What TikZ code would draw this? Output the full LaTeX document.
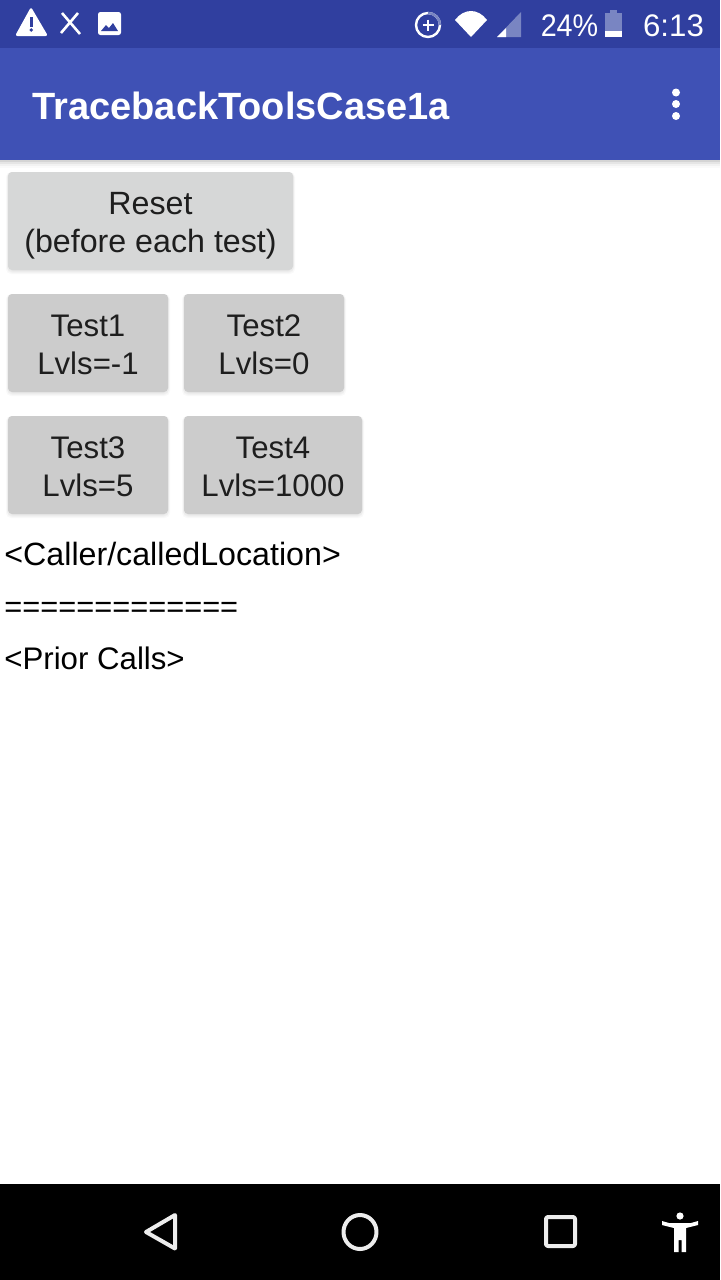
\documentclass[tikz,border=0pt]{standalone}
\usepackage{fontspec}
\setmainfont{Liberation Sans}
\usetikzlibrary{calc}
\definecolor{statusbar}{HTML}{303F9F}
\definecolor{appbar}{HTML}{3F51B5}
\definecolor{btngray}{HTML}{CCCCCC}
\definecolor{resetgray}{HTML}{D6D7D7}
\definecolor{btntext}{HTML}{1E1E1E}
\definecolor{dimwhite}{HTML}{7985C2}
\definecolor{navicon}{HTML}{EDEDED}
\newcommand{\bs}{\rule[-3.5pt]{0pt}{19pt}}
\tikzset{
  x=0.5pt,y=-0.5pt,
  btnbase/.style={rounded corners=2pt,inner sep=0pt,outer sep=0pt,text=btntext,align=center,
    font=\fontsize{15.6pt}{19pt}\selectfont},
  testbtn/.style={btnbase,fill=btngray},
  resetbtn/.style={btnbase,fill=resetgray,font=\fontsize{16.1pt}{19pt}\selectfont},
  body/.style={anchor=base west,inner sep=0pt,font=\fontsize{15.4pt}{19pt}\selectfont,text=black},
  statustext/.style={anchor=base,inner sep=0pt,text=white,font=\fontsize{15.6pt}{19pt}\selectfont},
  navline/.style={draw=navicon,line width=2pt,line join=round},
  shadowring/.style={fill=black,fill opacity=0.025,rounded corners=2.5pt},
}
\newcommand{\btnshadow}[4]{%
  \fill[shadowring] (#1-2,#2) rectangle (#3+2,#4+4);
  \fill[shadowring] (#1-1,#2) rectangle (#3+1,#4+3);
  \fill[shadowring] (#1-1,#2) rectangle (#3+1,#4+2);
  \fill[shadowring] (#1,#2) rectangle (#3,#4+1);
}
\begin{document}
\begin{tikzpicture}
\useasboundingbox (0,0) rectangle (720,1280);
\fill[white] (0,0) rectangle (720,1280);
% app bar shadow
\foreach \h/\o in {8/0.02,6/0.03,4/0.05,2/0.07}{\fill[black,fill opacity=\o] (0,160) rectangle (720,160+\h);}
% bars
\fill[statusbar] (0,0) rectangle (720,48);
\fill[appbar] (0,48) rectangle (720,160);
\fill[black] (0,1184) rectangle (720,1280);
% status icons, left
\fill[white,rounded corners=1.2pt] (31,7) -- (48,36) -- (15,36) -- cycle;
\fill[statusbar] (29.7,17) rectangle (33,27);
\fill[statusbar] (31.3,30) circle (1.9);
\draw[white,line width=1.3pt] (62,13) -- (80,34);
\draw[white,line width=1.3pt] (78,13) -- (61,33);
\fill[white,rounded corners=1.2pt] (98,12) rectangle (121,35);
\fill[statusbar] (101,31) -- (106,25) -- (109,28) -- (113,23) -- (118,31) -- cycle;
% status icons, right
\draw[white,line width=1.2pt] (428,25) circle (12);
\draw[dimwhite,line width=1.2pt] (428,13) .. controls (434.6,13) and (440,18.4) .. (440,25);
\draw[white,line width=1.2pt] (428,19.5) -- (428,30.5) (422.5,25) -- (433.5,25);
\fill[white] (455,20) .. controls (464,8) and (478,8) .. (487,20) -- (471,37) -- cycle;
\fill[dimwhite] (497,37) -- (521,12) -- (521,37) -- cycle;
\fill[white] (497,37) -- (506,28) -- (506,37) -- cycle;
\node[statustext,xscale=0.92] (battery) at (569.5,36) {24\%};
\fill[dimwhite] (605,13) rectangle (622,37);
\fill[dimwhite] (610,10) rectangle (617,13);
\fill[white] (605,31) rectangle (622,37);
\node[statustext] (clock) at (673.5,36) {6:13};
% title
\node[anchor=base west,inner sep=0pt,text=white,font=\fontsize{19pt}{22pt}\selectfont\bfseries] (title) at (32,119) {TracebackToolsCase1a};
\foreach \yy in {92.5,104,116}{\fill[white] (676,\yy) circle (4);}
% shadows of buttons
\btnshadow{8}{172}{293}{270}
\btnshadow{8}{294}{168}{392}
\btnshadow{184}{294}{344}{392}
\btnshadow{8}{416}{168}{514}
\btnshadow{184}{416}{362}{514}
% buttons
\node[resetbtn,minimum width=142.5pt,minimum height=49pt] (reset) at (150.5,221) {\bs Reset\\\bs (before each test)};
\node[testbtn,minimum width=80pt,minimum height=49pt] (test1) at (88,343) {\bs Test1\\\bs Lvls=-1};
\node[testbtn,minimum width=80pt,minimum height=49pt] (test2) at (264,343) {\bs Test2\\\bs Lvls=0};
\node[testbtn,minimum width=80pt,minimum height=49pt] (test3) at (88,465) {\bs Test3\\\bs Lvls=5};
\node[testbtn,minimum width=89pt,minimum height=49pt] (test4) at (273,465) {\bs Test4\\\bs Lvls=1000};
% body text
\node[body,font=\fontsize{16.1pt}{19pt}\selectfont] (caller) at (4,565) {<Caller/calledLocation>};
\node[body] (sep) at (4,617) {=============};
\node[body,font=\fontsize{15.6pt}{19pt}\selectfont] (prior) at (4,669) {<Prior Calls>};
% nav bar
\draw[navline] (146,1232) -- (175,1215) -- (175,1248.5) -- cycle;
\draw[navline] (360,1232) ellipse (16.5 and 17);
\draw[navline,rounded corners=1pt] (546,1217) rectangle (575,1246);
\fill[white] (680,1216) circle (3.6);
\fill[white] (662,1221) -- (669,1223) -- (691,1223) -- (698,1221) -- (698,1225) -- (686,1228) -- (686,1252) -- (681.5,1252) -- (681.5,1240) -- (678.5,1240) -- (678.5,1252) -- (674,1252) -- (674,1228) -- (662,1225) -- cycle;
\end{tikzpicture}
\end{document}
